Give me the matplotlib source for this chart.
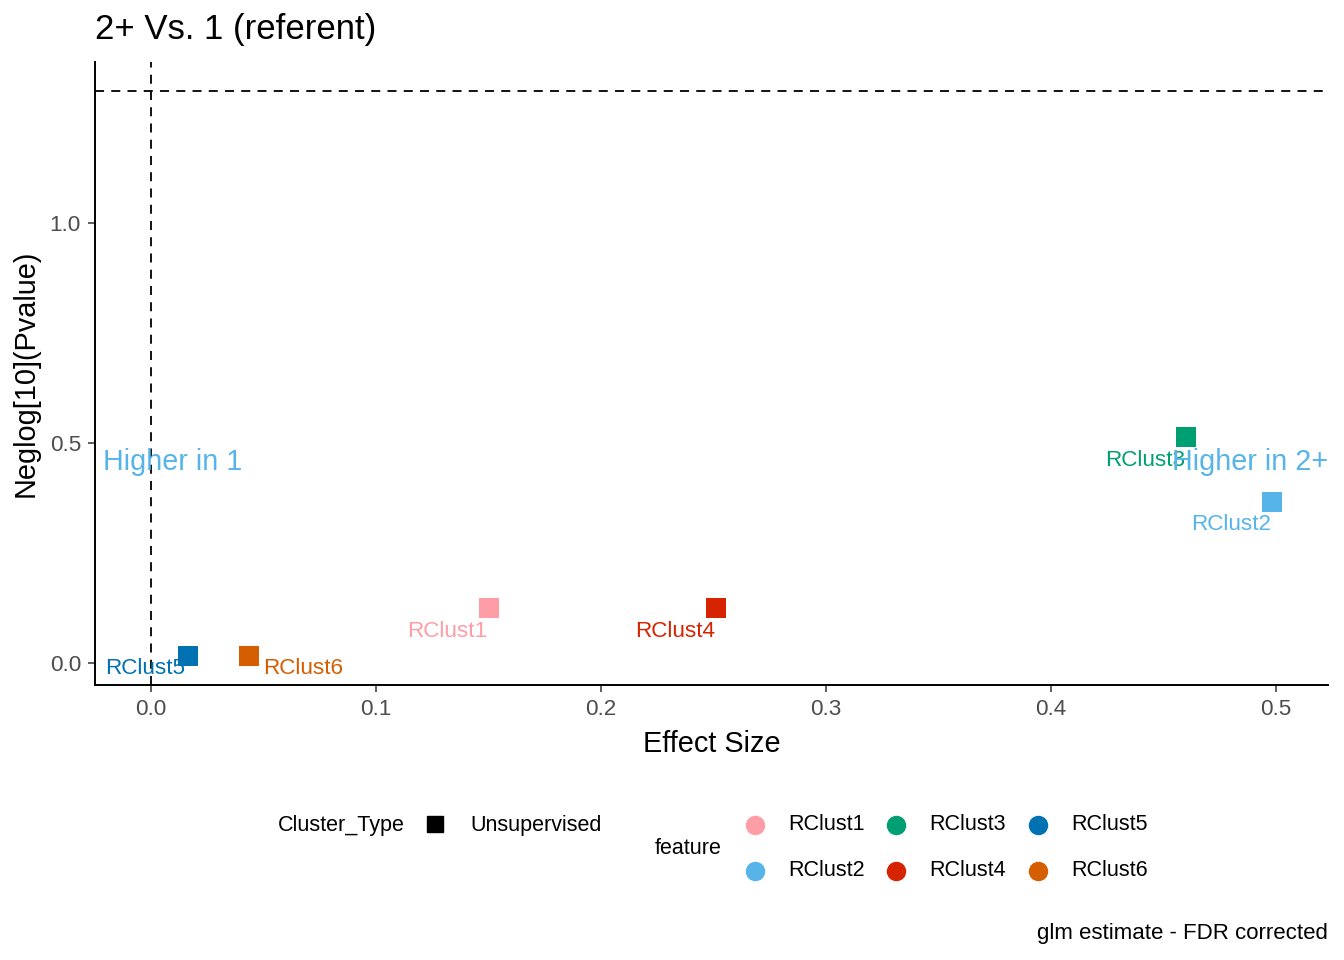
import matplotlib.pyplot as plt
from matplotlib.lines import Line2D
import numpy as np

plt.rcParams['font.family'] = ['Liberation Sans', 'DejaVu Sans']

# values
features = ['RClust1', 'RClust2', 'RClust3', 'RClust4', 'RClust5', 'RClust6']
effect_size = [0.150, 0.498, 0.460, 0.251, 0.0165, 0.0435]
neglog_p = [0.125, 0.366, 0.514, 0.125, 0.016, 0.016]
colors = ['#FF9DA7', '#56B4E9', '#009E73', '#D62300', '#0072B2', '#D55E00']
fdr_cut = 0.05

# label offsets in pixels (x right, y up)
label_off = {
    'RClust1': (-41, -23),
    'RClust2': (-41, -23),
    'RClust3': (-41, -24),
    'RClust4': (-41, -23),
    'RClust5': (-43, -13),
    'RClust6': (54, -13),
}

fig = plt.figure(figsize=(13.44, 9.6), dpi=100)
ax = fig.add_axes([95 / 1344, 1 - 685 / 960, (1328 - 95) / 1344, (685 - 62) / 960])

ax.axhline(-np.log10(fdr_cut), color='black', linestyle=(0, (5, 4)), linewidth=1.3)
ax.axvline(0, color='black', linestyle=(0, (5, 4)), linewidth=1.3)

for f, x, y, c in zip(features, effect_size, neglog_p, colors):
    ax.scatter(x, y, s=190, marker='s', color=c, zorder=3, linewidths=0)
    dx, dy = label_off[f]
    ax.annotate(f, (x, y), xytext=(dx, dy), textcoords='offset pixels',
                ha='center', va='center', color=c, fontsize=16.2)

ax.text(0.0065, 0.457, 'Higher in 1', transform=ax.get_yaxis_transform(),
        ha='left', va='center', color='#56B4E9', fontsize=20.7)
ax.text(1.0, 0.457, 'Higher in 2+', transform=ax.get_yaxis_transform(),
        ha='right', va='center', color='#56B4E9', fontsize=20.7)

ax.set_xlim(-0.0249, 0.523)
ax.set_ylim(-0.05, 1.366)
ax.set_xticks([0.0, 0.1, 0.2, 0.3, 0.4, 0.5])
ax.set_yticks([0.0, 0.5, 1.0])
ax.xaxis.set_major_formatter(plt.FormatStrFormatter('%.1f'))
ax.yaxis.set_major_formatter(plt.FormatStrFormatter('%.1f'))
ax.tick_params(length=5, width=1.1, color='#333333', labelcolor='#4D4D4D',
               labelsize=16.2, pad=5)
for s in ['top', 'right']:
    ax.spines[s].set_visible(False)
for s in ['left', 'bottom']:
    ax.spines[s].set_linewidth(1.4)

ax.set_xlabel('Effect Size', fontsize=20.8, labelpad=7)
ax.set_ylabel('Neglog[10](Pvalue)', fontsize=20.8, labelpad=7)
fig.text(95 / 1344, 1 - 30 / 960, '2+ Vs. 1 (referent)', fontsize=25,
         ha='left', va='center')

# legends
def fx(px):
    return px / 1344


def fy(py):
    return 1 - py / 960


leg_fs = 15.5
fig.text(fx(278), fy(825), 'Cluster_Type', fontsize=leg_fs, ha='left', va='center')
fig.add_artist(Line2D([fx(435)], [fy(824)], marker='s', markersize=12,
                      color='black', linestyle='none', transform=fig.transFigure))
fig.text(fx(470), fy(825), 'Unsupervised', fontsize=leg_fs, ha='left', va='center')

fig.text(fx(655), fy(849), 'feature', fontsize=leg_fs, ha='left', va='center')
col_x = [755, 896, 1038]
row_y = [825, 871]
for i, (f, c) in enumerate(zip(features, colors)):
    mx = col_x[i // 2]
    my = row_y[i % 2]
    fig.add_artist(Line2D([fx(mx)], [fy(my)], marker='o', markersize=13,
                          color=c, linestyle='none', transform=fig.transFigure))
    fig.text(fx(mx + 33), fy(my), f, fontsize=leg_fs, ha='left', va='center')

fig.text(fx(1328), fy(933), 'glm estimate - FDR corrected', fontsize=16,
         ha='right', va='center')

fig.savefig('out.png', dpi=100)
